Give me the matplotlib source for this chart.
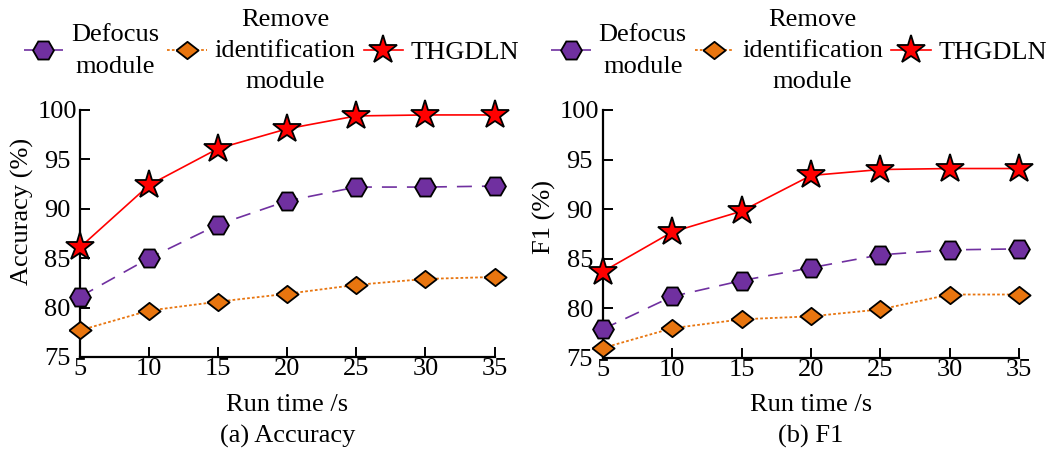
import matplotlib
matplotlib.use("Agg")
import matplotlib.pyplot as plt

plt.rcParams['font.family'] = ['Liberation Serif', 'DejaVu Serif']

run_time = [5, 10, 15, 20, 25, 30, 35]
x_ticks = [5, 10, 15, 20, 25, 30, 35]
y_ticks = [75, 80, 85, 90, 95, 100]

series_names = ["Defocus\nmodule", "Remove\nidentification\nmodule", "THGDLN"]

acc_defocus = [81.1, 85.0, 88.4, 90.8, 92.2, 92.2, 92.3]
acc_remove = [77.7, 79.7, 80.6, 81.4, 82.3, 82.9, 83.1]
acc_thgdln = [86.1, 92.4, 96.1, 98.1, 99.4, 99.5, 99.5]

f1_defocus = [77.9, 81.2, 82.8, 84.1, 85.4, 85.9, 86.0]
f1_remove = [76.0, 78.0, 78.9, 79.2, 79.9, 81.4, 81.4]
f1_thgdln = [83.7, 87.7, 89.8, 93.4, 94.0, 94.1, 94.1]

purple = '#7030a0'
orange = '#e8750f'
red = '#ff0000'
diamond = [(-1, 0), (0, 0.78), (1, 0), (0, -0.78), (-1, 0)]

styles = [
    dict(color=purple, ls=(0, (9, 6)), lw=1.2, marker='H', ms=15, mfc=purple, mec='black', mew=1.3),
    dict(color=orange, ls=(0, (1.5, 1.2)), lw=1.3, marker=diamond, ms=16, mfc=orange, mec='black', mew=1.3),
    dict(color=red, ls='-', lw=1.2, marker='*', ms=21, mfc=red, mec='black', mew=1.3),
]

W, H = 1057, 459
fig = plt.figure(figsize=(W / 100, H / 100), dpi=100)

panels = [
    dict(rect=(80, 110, 494.5, 357), data=[acc_defocus, acc_remove, acc_thgdln],
         ylabel='Accuracy (%)', ylab_xy=(22, 211), caption='(a) Accuracy', legx=0.257),
    dict(rect=(602.7, 110, 1019.3, 358), data=[f1_defocus, f1_remove, f1_thgdln],
         ylabel='F1 (%)', ylab_xy=(544, 217), caption='(b) F1', legx=0.756),
]

fs = 19
for p in panels:
    x0, y0, x1, y1 = p['rect']
    ax = fig.add_axes([x0 / W, 1 - y1 / H, (x1 - x0) / W, (y1 - y0) / H])
    handles = []
    for vals, st, name in zip(p['data'], styles, series_names):
        h, = ax.plot(run_time, vals, label=name, clip_on=False, zorder=3, **st)
        handles.append(h)
    ax.set_xlim(5, 35)
    ax.set_ylim(75, 100)
    ax.set_xticks(x_ticks)
    ax.set_yticks(y_ticks)
    ax.spines['top'].set_visible(False)
    ax.spines['right'].set_visible(False)
    for s in ('left', 'bottom'):
        ax.spines[s].set_linewidth(1.6)
    ax.tick_params(direction='in', length=7, width=1.4, labelsize=fs)
    ax.tick_params(axis='x', pad=1)
    ax.tick_params(axis='y', pad=16.5)
    for lab in ax.get_yticklabels():
        lab.set_horizontalalignment('center')
    cx = (x0 + x1) / 2
    lx, ly = p['ylab_xy']
    fig.text(lx / W, 1 - ly / H, p['ylabel'], rotation=90, ha='center', va='center', fontsize=fs)
    fig.text(cx / W, 1 - 405 / H, 'Run time /s', ha='center', va='center', fontsize=fs)
    fig.text(cx / W, 1 - 436 / H, p['caption'], ha='center', va='center', fontsize=fs)
    leg = fig.legend(handles=handles, loc='center', bbox_to_anchor=(p['legx'], 0.889),
                     ncol=3, frameon=False, fontsize=fs, handlelength=1.5,
                     handletextpad=0.3, columnspacing=0.3, borderpad=0, borderaxespad=0)
    for t in leg.get_texts():
        t.set_multialignment('center')
        t.set_linespacing(1.55)

fig.savefig('out.png', dpi=100)
